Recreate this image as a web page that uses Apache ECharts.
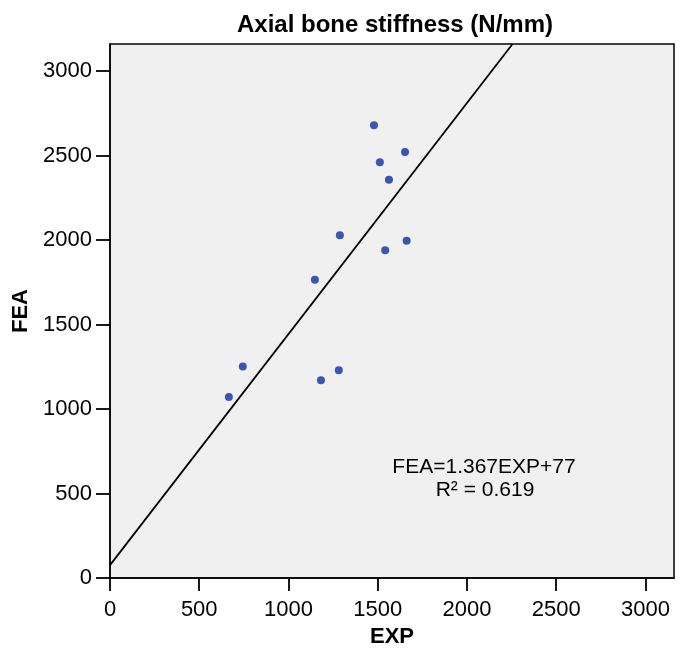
<!DOCTYPE html>
<html>
<head>
<meta charset="utf-8">
<style>html,body{margin:0;padding:0;background:#fff;}#c{width:688px;height:653px;}</style>
<script src="https://cdn.jsdelivr.net/npm/echarts@6/dist/echarts.min.js"></script>
</head>
<body>
<div id="c"></div>
<script>
var expValues = [1479, 1653, 1512, 1563, 1288, 1662, 1542, 1148, 744, 666, 1182, 1282];
var feaValues = [2680, 2521, 2461, 2357, 2029, 1996, 1939, 1765, 1252, 1072, 1170, 1230];
var tickValues = [0, 500, 1000, 1500, 2000, 2500, 3000];
var fitSlope = 1.367;
var fitIntercept = 77;
var fitLabel = 'FEA=1.367EXP+77';
var r2Label = 'R\u00b2 = 0.619';
var titleText = 'Axial bone stiffness (N/mm)';
var xName = 'EXP';
var yName = 'FEA';

var axisMax = 3160;
var points = expValues.map(function (x, i) { return [x, feaValues[i]]; });
var fitLine = [[0, fitIntercept], [(axisMax - fitIntercept) / fitSlope, axisMax]];

var font = 'Liberation Sans, Arial, sans-serif';
var chart = echarts.init(document.getElementById('c'));
function axisCommon(name, isX) {
  return {
    type: 'value', min: 0, max: axisMax, interval: 500,
    name: name, nameLocation: 'middle',
    nameGap: isX ? 47 : 64,
    nameTextStyle: { fontFamily: font, fontWeight: 'bold', fontSize: 22, color: '#000' },
    axisLine: { show: true, onZero: false, lineStyle: { color: '#000', width: 1.5 } },
    axisTick: { show: true, inside: false, length: isX ? 13 : 14, customValues: tickValues, lineStyle: { color: '#000', width: 1.8 } },
    axisLabel: {
      customValues: tickValues, margin: isX ? 21 : 18,
      formatter: function (v) { return String(v); },
      fontFamily: font, fontSize: 22, color: '#000'
    },
    splitLine: { show: false }
  };
}
chart.setOption({
  animation: false,
  backgroundColor: '#fff',
  title: {
    text: titleText, left: 390, top: 8, textAlign: 'center',
    textStyle: { fontFamily: font, fontWeight: 'bold', fontSize: 24, color: '#000' }
  },
  grid: {
    left: 110, right: 14, top: 44, bottom: 69,
    show: true, backgroundColor: '#f0f0f0', borderColor: '#000', borderWidth: 1.5
  },
  xAxis: axisCommon(xName, true),
  yAxis: axisCommon(yName, false),
  series: [
    {
      type: 'line', data: fitLine, showSymbol: false, symbol: 'none', clip: true,
      lineStyle: { color: '#000', width: 1.8 }, silent: true, z: 2
    },
    {
      type: 'scatter', data: points, symbolSize: 8,
      itemStyle: { color: '#3a56b3', opacity: 1 }, z: 3
    }
  ],
  graphic: [
    { type: 'text', x: 484, y: 467, style: { text: fitLabel, fontFamily: font, fontSize: 21, fill: '#000', align: 'center', verticalAlign: 'middle' } },
    { type: 'text', x: 485, y: 490, style: { text: r2Label, fontFamily: font, fontSize: 21, fill: '#000', align: 'center', verticalAlign: 'middle' } }
  ]
});
</script>
</body>
</html>
